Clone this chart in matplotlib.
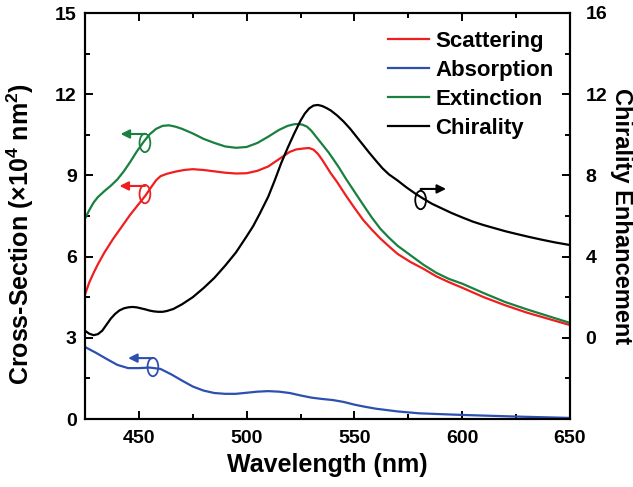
import matplotlib
matplotlib.use('Agg')
from matplotlib import pyplot as plt
from matplotlib.ticker import MultipleLocator
from matplotlib.patches import Ellipse

matplotlib.rcParams['font.family'] = ['Liberation Sans', 'DejaVu Sans']
matplotlib.rcParams['font.weight'] = 'bold'
matplotlib.rcParams['mathtext.fontset'] = 'custom'
matplotlib.rcParams['mathtext.rm'] = 'Liberation Sans'
matplotlib.rcParams['mathtext.bf'] = 'Liberation Sans:bold'

# 散射 / 吸收 / 消光截面 (x10^4 nm^2)
wl_sca = [425, 427, 429, 431, 434, 438, 442, 446, 450, 453, 456, 458, 460, 463, 467, 471, 475, 480,
          485, 490, 495, 500, 505, 510, 515, 520, 523, 527, 529, 531, 533, 535, 537, 539, 542, 546,
          550, 554, 558, 562, 566, 570, 576, 582, 588, 594, 600, 610, 620, 630, 640, 650]
sca = [4.6, 5.05, 5.4, 5.72, 6.15, 6.65, 7.1, 7.55, 7.95, 8.25, 8.6, 8.82, 8.97, 9.06, 9.14, 9.2, 9.23, 9.2,
       9.15, 9.1, 9.07, 9.08, 9.17, 9.33, 9.6, 9.87, 9.96, 10.0, 10.01, 9.95, 9.8, 9.58, 9.33, 9.08, 8.75, 8.26,
       7.8, 7.36, 7.0, 6.67, 6.38, 6.1, 5.8, 5.55, 5.27, 5.05, 4.85, 4.5, 4.2, 3.93, 3.7, 3.47]

wl_ext = [425, 427, 429, 431, 434, 437, 440, 443, 446, 449, 452, 455, 458, 461, 464, 467, 470, 475, 480,
          485, 490, 495, 500, 505, 510, 515, 519, 522, 524, 526, 528, 530, 532, 534, 536, 538, 540, 543, 546,
          550, 554, 558, 562, 566, 570, 576, 582, 588, 594, 600, 610, 620, 630, 640, 650]
ext = [7.4, 7.72, 8.0, 8.2, 8.42, 8.62, 8.85, 9.15, 9.5, 9.88, 10.22, 10.52, 10.72, 10.83, 10.85, 10.8, 10.72, 10.55, 10.35,
       10.2, 10.07, 10.02, 10.05, 10.2, 10.43, 10.68, 10.83, 10.89, 10.9, 10.87, 10.8, 10.65, 10.45, 10.25, 10.05, 9.85, 9.62, 9.27, 8.88,
       8.4, 7.92, 7.45, 7.03, 6.7, 6.4, 6.05, 5.7, 5.4, 5.17, 5.0, 4.65, 4.32, 4.05, 3.8, 3.55]

wl_abs = [425, 430, 435, 440, 445, 450, 455, 460, 465, 470, 475, 480, 485, 490, 495, 500,
          505, 510, 515, 520, 525, 530, 535, 540, 545, 550, 555, 560, 570, 580, 590, 600, 625, 650]
absorb = [2.66, 2.45, 2.22, 2.0, 1.88, 1.88, 1.9, 1.85, 1.65, 1.42, 1.2, 1.05, 0.96, 0.93, 0.93, 0.97,
          1.01, 1.03, 1.01, 0.96, 0.87, 0.79, 0.74, 0.7, 0.63, 0.53, 0.45, 0.38, 0.28, 0.21, 0.18, 0.15, 0.09, 0.04]

# 手性增强因子
wl_chi = [425, 427, 429, 431, 433, 435, 437, 439, 441, 443, 445, 447, 449, 451, 453, 455, 457, 459,
          461, 463, 466, 470, 475, 480, 485, 490, 495, 500, 503, 506, 510, 513, 516, 519, 522, 525,
          527, 529, 531, 533, 535, 537, 539, 542, 545, 548, 551, 554, 557, 560, 563, 566, 570, 574,
          578, 582, 586, 590, 595, 600, 605, 610, 615, 620, 625, 631, 637, 643, 650]
chi = [0.35, 0.2, 0.13, 0.18, 0.35, 0.65, 0.95, 1.18, 1.35, 1.45, 1.5, 1.52, 1.5, 1.45, 1.4, 1.34, 1.3, 1.28,
       1.28, 1.32, 1.42, 1.65, 2.0, 2.45, 2.95, 3.55, 4.2, 5.0, 5.5, 6.1, 6.95, 7.75, 8.6, 9.35, 10.05, 10.7,
       11.05, 11.3, 11.44, 11.47, 11.42, 11.32, 11.2, 10.95, 10.65, 10.3, 9.9, 9.5, 9.1, 8.72, 8.35, 8.05, 7.75, 7.42,
       7.12, 6.85, 6.6, 6.4, 6.15, 5.93, 5.72, 5.55, 5.4, 5.25, 5.12, 4.97, 4.83, 4.7, 4.57]

c_sca, c_abs, c_ext, c_chi = '#f01e1e', '#2d4fb0', '#198040', 'black'

# 圈+箭头标记：(圈中心x, 圈中心y, 箭头终点x, 箭头y, 颜色)，均用左轴坐标
marks = [(452.8, 10.2, 441.5, 10.53, c_ext),
         (452.8, 8.31, 441.0, 8.61, c_sca),
         (456.5, 1.92, 445.0, 2.25, c_abs),
         (580.7, 8.09, 592.5, 8.5, c_chi)]

fig = plt.figure(figsize=(6.33, 4.87), dpi=100)
ax = fig.add_axes([85/633, 1-419/487, 485/633, 406/487])
ax2 = ax.twinx()

l1, = ax.plot(wl_sca, sca, color=c_sca, lw=1.6, label='Scattering')
l2, = ax.plot(wl_abs, absorb, color=c_abs, lw=1.6, label='Absorption')
l3, = ax.plot(wl_ext, ext, color=c_ext, lw=1.6, label='Extinction')
l4, = ax2.plot(wl_chi, chi, color=c_chi, lw=1.6, label='Chirality')

ax.set_xlim(425, 650)
ax.set_ylim(0, 15)
ax2.set_ylim(-4, 16)
ax.set_xticks([450, 500, 550, 600, 650])
ax.xaxis.set_minor_locator(MultipleLocator(25))
ax.set_yticks([0, 3, 6, 9, 12, 15])
ax.yaxis.set_minor_locator(MultipleLocator(1.5))
ax2.set_yticks([0, 4, 8, 12, 16])
ax2.yaxis.set_minor_locator(MultipleLocator(2))

for a in (ax, ax2):
    for s in a.spines.values():
        s.set_linewidth(1.5)
ax.tick_params(which='both', direction='in', top=True, width=1.4, labelsize=14)
ax.tick_params(which='major', length=5.5)
ax.tick_params(which='minor', length=3.5)
ax.tick_params(axis='y', pad=6)
ax.tick_params(axis='x', pad=8)
ax2.tick_params(which='both', direction='in', width=1.4, labelsize=14, pad=11)
ax2.tick_params(which='major', length=5.5)
ax2.tick_params(which='minor', length=3.5)

ax.set_xlabel('Wavelength (nm)', fontsize=18, fontweight='bold', labelpad=4)
ax.set_ylabel(r'Cross-Section ($\times$10$^{\mathbf{4}}$ nm$^{\mathbf{2}}$)',
              fontsize=18, fontweight='bold')
ax.yaxis.set_label_coords(-0.1, 0.455)
ax2.set_ylabel('Chirality Enhancement', fontsize=17, fontweight='bold',
               rotation=270, labelpad=19)

for ex, ey, tx, ty, col in marks:
    ax.add_patch(Ellipse((ex, ey), 5.0, 0.68, fill=False, ec=col, lw=1.3))
    ax.annotate('', xy=(tx, ty), xytext=(ex, ty),
                arrowprops=dict(arrowstyle='-|>', color=col, lw=1.5, mutation_scale=13,
                                shrinkA=0, shrinkB=0))

ax2.legend(handles=[l1, l2, l3, l4], loc='upper left', frameon=False,
           bbox_to_anchor=(388/633, 1-31/487), bbox_transform=fig.transFigure,
           prop={'size': 16, 'weight': 'bold'}, handlelength=1.85, handletextpad=0.27,
           labelspacing=0.36, borderpad=0, borderaxespad=0)

fig.savefig('out.png', dpi=100)
